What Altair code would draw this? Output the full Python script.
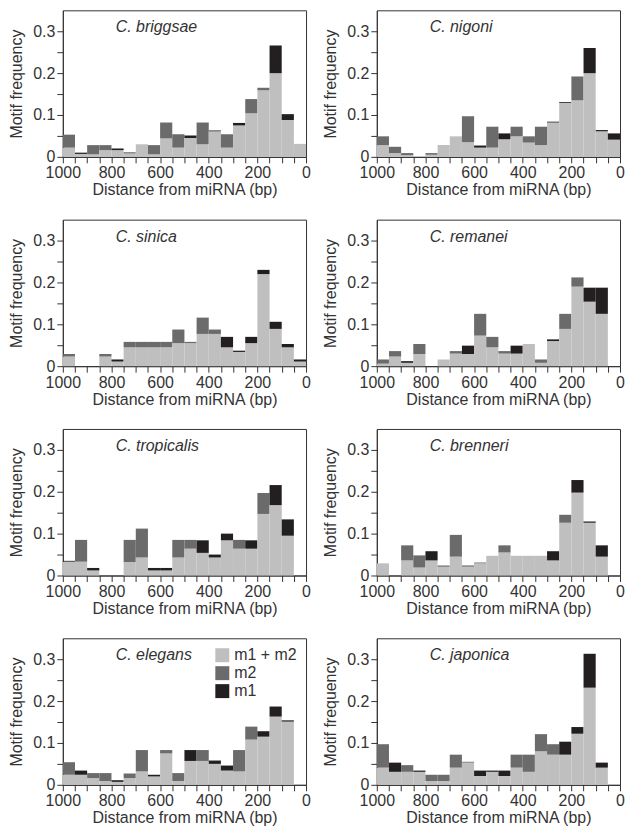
import altair as alt
import pandas as pd

# Bin edges: 20 bins of 50 bp, listed from 1000-950 down to 50-0
bin_starts = list(range(1000, 0, -50))
layers = ["m1 + m2", "m2", "m1"]
colors = ["#bfbfbf", "#6b6b6b", "#231f20"]

species = ["C. briggsae", "C. nigoni", "C. sinica", "C. remanei",
           "C. tropicalis", "C. brenneri", "C. elegans", "C. japonica"]

# frequencies (stack increments) per bin
briggsae_both = [0.022, 0.007, 0.006, 0.016, 0.016, 0.008, 0.030, 0.006, 0.044, 0.022,
                 0.045, 0.030, 0.061, 0.022, 0.075, 0.104, 0.159, 0.200, 0.088, 0.031]
briggsae_m2 = [0.031, 0, 0.022, 0.012, 0, 0.003, 0, 0.022, 0.038, 0.032,
               0, 0.052, 0, 0.032, 0, 0.034, 0.006, 0, 0, 0]
briggsae_m1 = [0, 0.003, 0, 0, 0.004, 0, 0, 0, 0, 0,
               0.006, 0, 0.002, 0, 0.006, 0, 0, 0.066, 0.014, 0]

nigoni_both = [0.028, 0.009, 0.004, 0, 0.005, 0.028, 0.049, 0.035, 0.022, 0.022,
               0.042, 0.049, 0.034, 0.028, 0.082, 0.129, 0.135, 0.200, 0.061, 0.041]
nigoni_m2 = [0.021, 0.015, 0.005, 0, 0.004, 0, 0, 0.062, 0, 0.050,
             0, 0.023, 0.015, 0.044, 0, 0, 0.057, 0, 0, 0]
nigoni_m1 = [0, 0, 0, 0, 0, 0, 0, 0, 0.005, 0,
             0.014, 0, 0, 0, 0.002, 0.002, 0, 0.060, 0.003, 0.015]

sinica_both = [0.023, 0, 0, 0.023, 0.011, 0.045, 0.045, 0.045, 0.045, 0.055,
               0.055, 0.077, 0.077, 0.045, 0.034, 0.055, 0.220, 0.089, 0.045, 0.011]
sinica_m2 = [0.006, 0, 0, 0.006, 0, 0.013, 0.013, 0.013, 0.013, 0.0325,
             0.003, 0.039, 0.0105, 0, 0, 0, 0, 0, 0, 0]
sinica_m1 = [0, 0, 0, 0, 0.005, 0, 0, 0, 0, 0,
             0, 0, 0, 0.025, 0.003, 0.015, 0.010, 0.017, 0.008, 0.005]

remanei_both = [0.006, 0.023, 0.008, 0.029, 0, 0.016, 0.030, 0.029, 0.073, 0.045,
                0.030, 0.030, 0.053, 0.008, 0.060, 0.089, 0.190, 0.154, 0.125, 0]
remanei_m2 = [0.010, 0.013, 0, 0.024, 0, 0, 0.006, 0, 0.052, 0.025,
              0.006, 0, 0, 0.008, 0, 0.036, 0.022, 0, 0, 0]
remanei_m1 = [0, 0, 0.004, 0, 0, 0, 0, 0.020, 0, 0,
              0, 0.019, 0, 0, 0.004, 0, 0, 0.0335, 0.0625, 0]

tropicalis_both = [0.033, 0.033, 0.012, 0, 0, 0.032, 0.043, 0.012, 0.012, 0.043,
                   0.064, 0.054, 0.043, 0.084, 0.064, 0.064, 0.147, 0.168, 0.095, 0]
tropicalis_m2 = [0, 0.052, 0, 0, 0, 0.053, 0.069, 0, 0, 0.042,
                 0.021, 0, 0, 0, 0.021, 0, 0.050, 0, 0, 0]
tropicalis_m1 = [0.002, 0, 0.006, 0, 0, 0, 0, 0.006, 0.006, 0,
                 0, 0.030, 0.007, 0.016, 0, 0.020, 0, 0.048, 0.039, 0]

brenneri_both = [0.029, 0, 0.036, 0.019, 0.036, 0.021, 0.045, 0.021, 0.029, 0.047,
                 0.055, 0.047, 0.047, 0.047, 0.036, 0.126, 0.198, 0.126, 0.045, 0]
brenneri_m2 = [0, 0, 0.036, 0.029, 0, 0.003, 0.052, 0.003, 0.002, 0,
               0.017, 0, 0, 0, 0, 0.019, 0, 0, 0, 0]
brenneri_m1 = [0, 0, 0, 0, 0.022, 0, 0, 0, 0, 0,
               0, 0, 0, 0, 0.022, 0, 0.030, 0.003, 0.027, 0]

elegans_both = [0.024, 0.024, 0.016, 0.009, 0.007, 0.016, 0.032, 0.020, 0.075, 0.009,
                0.057, 0.057, 0.050, 0.034, 0.032, 0.108, 0.115, 0.163, 0.151, 0]
elegans_m2 = [0.030, 0, 0.012, 0.019, 0, 0.011, 0.051, 0, 0.008, 0.019,
              0, 0.026, 0, 0, 0.051, 0.031, 0, 0, 0, 0]
elegans_m1 = [0, 0.010, 0, 0, 0.004, 0, 0, 0.004, 0, 0,
              0.026, 0, 0.008, 0.012, 0, 0, 0.013, 0.024, 0.003, 0]

japonica_both = [0.041, 0.031, 0.031, 0.031, 0.009, 0.009, 0.041, 0.053, 0.021, 0.031,
                 0.021, 0.041, 0.031, 0.080, 0.072, 0.072, 0.122, 0.232, 0.041, 0]
japonica_m2 = [0.056, 0, 0.016, 0, 0.015, 0.015, 0.031, 0.002, 0, 0,
               0, 0.031, 0.041, 0.041, 0.025, 0, 0, 0, 0, 0]
japonica_m1 = [0, 0.022, 0, 0.003, 0, 0, 0, 0, 0.013, 0.003,
               0.013, 0, 0, 0, 0, 0.031, 0.016, 0.081, 0.012, 0]

series = {
    "C. briggsae": (briggsae_both, briggsae_m2, briggsae_m1),
    "C. nigoni": (nigoni_both, nigoni_m2, nigoni_m1),
    "C. sinica": (sinica_both, sinica_m2, sinica_m1),
    "C. remanei": (remanei_both, remanei_m2, remanei_m1),
    "C. tropicalis": (tropicalis_both, tropicalis_m2, tropicalis_m1),
    "C. brenneri": (brenneri_both, brenneri_m2, brenneri_m1),
    "C. elegans": (elegans_both, elegans_m2, elegans_m1),
    "C. japonica": (japonica_both, japonica_m2, japonica_m1),
}

x_ticks = list(range(0, 1001, 50))
y_ticks = [0, 0.05, 0.1, 0.15, 0.2, 0.25, 0.3]

FONT = "Liberation Sans"
TXT = "#333333"
W, H = 244, 147


def panel(name, show_legend=False):
    rows = []
    for i, start in enumerate(bin_starts):
        base = 0.0
        for li, lname in enumerate(layers):
            v = series[name][li][i]
            if v > 0:
                rows.append({"start": start, "end": start - 50, "y0": base,
                             "y1": base + v, "layer": lname})
            base += v
    df = pd.DataFrame(rows)
    bars = alt.Chart(df).mark_rect(strokeWidth=0).encode(
        x=alt.X("start:Q",
                scale=alt.Scale(domain=[0, 1000], reverse=True, nice=False),
                axis=alt.Axis(values=x_ticks, format="d",
                              labelExpr="datum.value % 200 == 0 ? datum.label : ''",
                              title="Distance from miRNA (bp)", labelFlush=False,
                              labelOverlap=False, titlePadding=1)),
        x2="end:Q",
        y=alt.Y("y0:Q",
                scale=alt.Scale(domain=[0, 0.35], nice=False),
                axis=alt.Axis(values=y_ticks, format=".1~f",
                              labelExpr="round(datum.value * 100) % 10 == 0 ? datum.label : ''",
                              title="Motif frequency", labelOverlap=False,
                              titlePadding=8)),
        y2="y1:Q",
        color=alt.Color("layer:N", scale=alt.Scale(domain=layers, range=colors),
                        legend=None),
    )
    label = alt.Chart(pd.DataFrame({"name": [name]})).mark_text(
        align="left", baseline="middle", fontStyle="italic", fontSize=16,
        font=FONT, color=TXT,
    ).encode(x=alt.value(53), y=alt.value(17), text="name:N")
    parts = [bars, label]
    if show_legend:
        leg = pd.DataFrame({"layer": layers})
        for i, lname in enumerate(layers):
            d = leg[leg["layer"] == lname]
            parts.append(alt.Chart(d).mark_square(size=196, opacity=1).encode(
                x=alt.value(160), y=alt.value(17 + 18 * i),
                color=alt.value(colors[i])))
            parts.append(alt.Chart(d).mark_text(
                align="left", baseline="middle", fontSize=16, font=FONT, color=TXT
            ).encode(x=alt.value(172), y=alt.value(17 + 18 * i), text="layer:N"))
    return alt.layer(*parts).properties(width=W, height=H)


rows = []
for r in range(4):
    a, b = species[2 * r], species[2 * r + 1]
    rows.append(alt.hconcat(panel(a, a == "C. elegans"), panel(b), spacing=11))

chart = alt.vconcat(*rows, spacing=20).properties(
    padding={"left": 0, "top": 0, "right": 0, "bottom": 0}
).configure_view(
    stroke=TXT, strokeWidth=1
).configure_axis(
    labelFont=FONT, titleFont=FONT, labelFontSize=16, titleFontSize=16,
    labelColor=TXT, titleColor=TXT, titleFontWeight="normal",
    domainColor=TXT, tickColor=TXT, tickSize=6, grid=False, labelPadding=2,
)

chart.save("out.html", embed_options={"renderer": "svg", "actions": False})
